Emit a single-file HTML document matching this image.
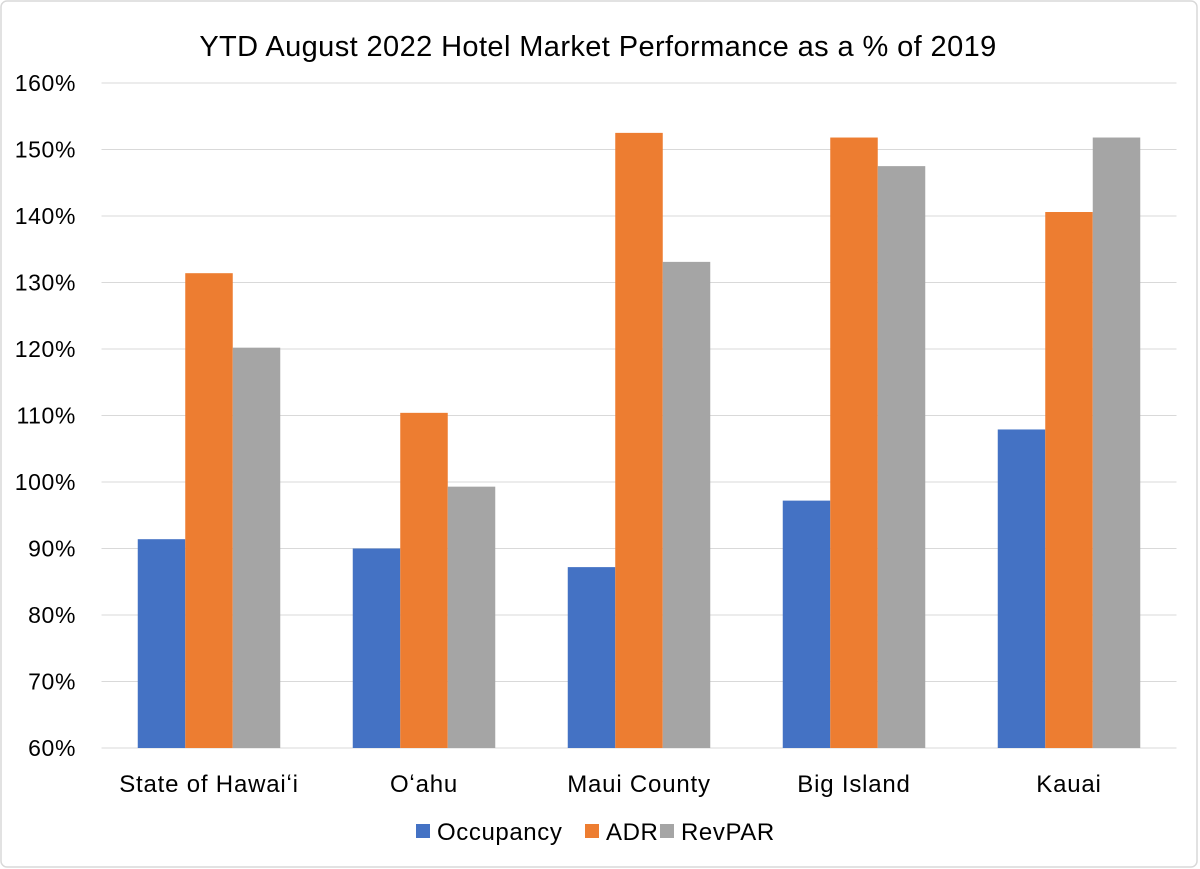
<!DOCTYPE html>
<html><head><meta charset="utf-8"><style>
html,body{margin:0;padding:0;background:#fff;}
svg{display:block;font-family:"Liberation Sans",Arial,sans-serif;}
</style></head><body>
<svg id="chart" width="1200" height="869">
<rect x="1" y="1" width="1196" height="866" rx="6" fill="#fff" stroke="#d9d9d9" stroke-width="1.5"/>
<text x="598" y="56" text-anchor="middle" font-size="29" letter-spacing="0.4" fill="#000">YTD August 2022 Hotel Market Performance as a % of 2019</text>
<g id="grid"></g><g id="bars"></g><g id="labels"></g>
<g font-size="24" letter-spacing="0.6">
<rect x="416" y="824" width="14" height="14" fill="#4472c4"/>
<text x="437" y="840">Occupancy</text>
<rect x="585" y="824" width="14" height="14" fill="#ed7d31"/>
<text x="606" y="840">ADR</text>
<rect x="660" y="824" width="14" height="14" fill="#a5a5a5"/>
<text x="681" y="840">RevPAR</text>
</g>
</svg>
<script>
const categories=["State of Hawai\u02bbi","O\u02bbahu","Maui County","Big Island","Kauai"];
const occupancy=[91.4,90.0,87.2,97.2,107.9];
const adr=[131.4,110.4,152.5,151.8,140.6];
const revpar=[120.2,99.3,133.1,147.5,151.8];
const ticks=[60,70,80,90,100,110,120,130,140,150,160];
const ns="http://www.w3.org/2000/svg";
const y=v=>748-(v-60)*6.65;
const x0=101.5,gw=215,bw=47.5;
function mk(t,a,p){const e=document.createElementNS(ns,t);for(const k in a)e.setAttribute(k,a[k]);p.appendChild(e);return e;}
const grid=document.getElementById('grid'),bars=document.getElementById('bars'),labels=document.getElementById('labels');
ticks.forEach(t=>{
 const l=mk('line',{x1:x0,x2:x0+5*gw,y1:y(t),y2:y(t),stroke:'#d9d9d9','stroke-width':1},grid);
 
 
 const tx=mk('text',{x:76,y:y(t)+8,'text-anchor':'end','font-size':23,'letter-spacing':0.6,fill:'#000'},labels);
 tx.textContent=t+'%';
 
 
});
const series=[[occupancy,'#4472c4','occupancy'],[adr,'#ed7d31','adr'],[revpar,'#a5a5a5','revpar']];
categories.forEach((c,i)=>{
 const cx=x0+gw*(i+0.5);
 series.forEach((s,j)=>{
  const v=s[0][i];
  const r=mk('rect',{x:cx-1.5*bw+j*bw,y:y(v),width:bw,height:y(60)-y(v),fill:s[1]},bars);
  
  
 });
 const t=mk('text',{x:cx,y:792,'text-anchor':'middle','font-size':24,'letter-spacing':0.8,fill:'#000'},labels);
 t.textContent=c;
 
 
});
</script>
</body></html>
